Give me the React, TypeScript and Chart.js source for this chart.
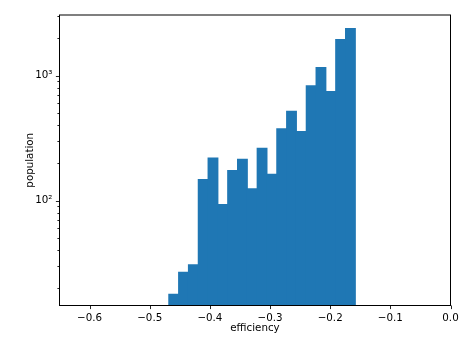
import React, { useEffect, useRef } from "react";
import { Chart, registerables } from "chart.js";

Chart.register(...registerables);

// Histogram bin left edges and right edge (efficiency)
const binEdges = [
  -0.4683, -0.452, -0.4357, -0.4193, -0.403, -0.3867, -0.3704, -0.3541, -0.3377, -0.3214,
  -0.3051, -0.2888, -0.2725, -0.2561, -0.2398, -0.2235, -0.2072, -0.1909, -0.1745, -0.1582,
];
// Population counts per bin
const counts = [18, 27, 31, 149, 222, 94, 176, 217, 126, 265, 164, 380, 525, 361, 838, 1174, 755, 1967, 2408];

const xTicks = [-0.6, -0.5, -0.4, -0.3, -0.2, -0.1, 0.0];
const yMajorTicks = [100, 1000];
const yMinorTicks = [20, 30, 40, 50, 60, 70, 80, 90, 200, 300, 400, 500, 600, 700, 800, 900, 2000, 3000];
const yTickLabels: Record<number, string> = { 100: "10²", 1000: "10³" };

const xMin = -0.65;
const xMax = 0.0;
const yMin = 14.5;
const yMax = 3060;

const FONT = { family: "'DejaVu Sans', sans-serif", size: 10.3 };

const ticksPlugin = {
  id: "mplTicks",
  afterDraw(chart: any) {
    const { ctx, chartArea } = chart;
    const xs = chart.scales.x;
    const ys = chart.scales.y;
    ctx.save();
    ctx.strokeStyle = "#000";
    ctx.lineWidth = 0.85;
    ctx.beginPath();
    for (const v of xTicks) {
      const px = Math.round(xs.getPixelForValue(v)) + 0.5;
      ctx.moveTo(px, chartArea.bottom);
      ctx.lineTo(px, chartArea.bottom + 3.6);
    }
    for (const v of yMajorTicks) {
      const py = Math.round(ys.getPixelForValue(v)) + 0.5;
      ctx.moveTo(chartArea.left, py);
      ctx.lineTo(chartArea.left - 3.6, py);
    }
    for (const v of yMinorTicks) {
      if (v < yMin || v > yMax) continue;
      const py = Math.round(ys.getPixelForValue(v)) + 0.5;
      ctx.moveTo(chartArea.left, py);
      ctx.lineTo(chartArea.left - 2.1, py);
    }
    ctx.stroke();
    ctx.lineWidth = 1;
    ctx.strokeRect(chartArea.left, chartArea.top, chartArea.right - chartArea.left, chartArea.bottom - chartArea.top);
    ctx.restore();
  },
};

export default function App() {
  const ref = useRef<HTMLCanvasElement | null>(null);
  useEffect(() => {
    if (!ref.current) return;
    const data = counts.map((c, i) => ({ x: (binEdges[i] + binEdges[i + 1]) / 2, y: c }));
    const chart = new Chart(ref.current, {
      type: "bar",
      data: {
        datasets: [
          {
            data,
            backgroundColor: "#1f77b4",
            borderWidth: 0,
            inflateAmount: 0,
            barThickness: 10.85,
          } as any,
        ],
      },
      plugins: [ticksPlugin],
      options: {
        animation: false,
        responsive: false,
        maintainAspectRatio: false,
        layout: { padding: { top: 15, right: 24.5, left: 0, bottom: 0 } },
        plugins: { legend: { display: false }, tooltip: { enabled: false } },
        scales: {
          x: {
            type: "linear",
            min: xMin,
            max: xMax,
            offset: false,
            grid: { display: false, drawTicks: false },
            border: { display: false },
            afterBuildTicks: (s: any) => {
              s.ticks = xTicks.map((v) => ({ value: v }));
            },
            afterFit: (s: any) => {
              s.height = 40.5;
            },
            ticks: {
              autoSkip: false,
              maxRotation: 0,
              color: "#000",
              font: FONT,
              padding: 6.5,
              callback: (v: any) => (Number(v) === 0 ? "0.0" : "\u2212" + Math.abs(Number(v)).toFixed(1)),
            },
            title: {
              display: true,
              text: "efficiency",
              color: "#000",
              font: FONT,
              padding: { top: 0, bottom: 11.8 },
            },
          },
          y: {
            type: "logarithmic",
            min: yMin,
            max: yMax,
            grid: { display: false, drawTicks: false },
            border: { display: false },
            afterBuildTicks: (s: any) => {
              s.ticks = yMajorTicks.map((v) => ({ value: v }));
            },
            afterFit: (s: any) => {
              s.width = 59.5;
            },
            ticks: {
              autoSkip: false,
              color: "#000",
              font: FONT,
              padding: 7,
              callback: (v: any) => yTickLabels[Number(v)] ?? "",
            },
            title: {
              display: true,
              text: "population",
              color: "#000",
              font: FONT,
              padding: { top: 23.8, bottom: 0 },
            },
          },
        },
      },
    });
    return () => chart.destroy();
  }, []);
  return (
    <div style={{ position: "fixed", left: 0, top: 0, width: 475, height: 346, background: "#fff" }}>
      <canvas ref={ref} width={475} height={346} style={{ display: "block" }} />
    </div>
  );
}
